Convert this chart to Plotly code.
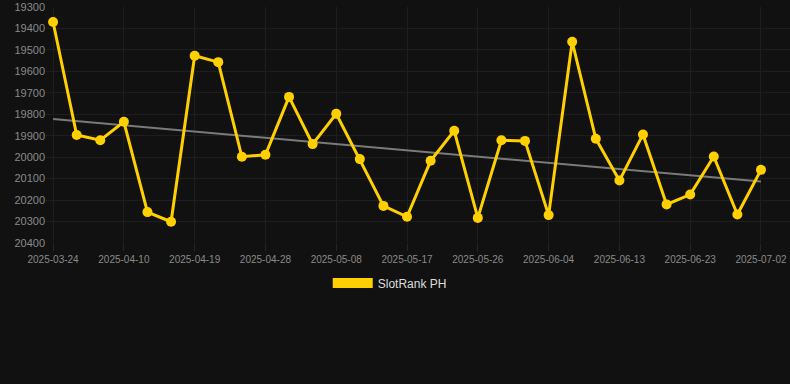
import numpy as np
import plotly.graph_objects as go

dates = ["2025-03-24", "2025-03-30", "2025-04-05", "2025-04-10", "2025-04-13", "2025-04-16",
         "2025-04-19", "2025-04-22", "2025-04-25", "2025-04-28", "2025-05-01", "2025-05-05",
         "2025-05-08", "2025-05-11", "2025-05-14", "2025-05-17", "2025-05-20", "2025-05-23",
         "2025-05-26", "2025-05-29", "2025-06-01", "2025-06-04", "2025-06-07", "2025-06-10",
         "2025-06-13", "2025-06-17", "2025-06-20", "2025-06-23", "2025-06-26", "2025-06-29",
         "2025-07-02"]
rank = [19370, 19897, 19921, 19835, 20256, 20301, 19527, 19557, 19998, 19989, 19719,
        19939, 19798, 20009, 20227, 20278, 20017, 19877, 20283, 19921, 19924, 20270,
        19462, 19914, 20109, 19894, 20220, 20174, 19997, 20267, 20059]
tick_labels = dates[::3]
y_ticks = [19300, 19400, 19500, 19600, 19700, 19800, 19900, 20000, 20100, 20200, 20300, 20400]
series_name = "SlotRank PH"

idx = np.arange(len(rank))
slope, intercept = np.polyfit(idx, rank, 1)
trend = slope * idx + intercept

YELLOW = "#FFD000"
BG = "#111111"

fig = go.Figure()
fig.add_trace(go.Scatter(
    x=dates, y=trend, mode="lines", line=dict(color="#7a7a7a", width=2),
    showlegend=False, hoverinfo="skip"))
fig.add_trace(go.Scatter(
    x=dates, y=rank, mode="lines+markers", name=series_name,
    line=dict(color=YELLOW, width=3), marker=dict(color=YELLOW, size=10),
    showlegend=False))
# legend entry
fig.add_trace(go.Scatter(x=[None], y=[None], mode="lines", name=series_name,
                         line=dict(color=YELLOW, width=12), showlegend=True))

fig.update_layout(
    width=790, height=384,
    margin=dict(l=46, r=0, t=7, b=141),
    paper_bgcolor=BG, plot_bgcolor=BG,
    font=dict(family="Liberation Sans, Arial, sans-serif", color="#8a8a8a", size=11),
    xaxis=dict(type="category", categoryorder="array", categoryarray=dates,
               range=[-0.3, 31.23], tickvals=tick_labels, ticktext=tick_labels,
               showgrid=True, gridcolor="#1e1e1e", gridwidth=1,
               ticks="outside", ticklen=7, tickcolor="#262626",
               showline=False, zeroline=False, tickfont=dict(size=10, color="#8a8a8a")),
    yaxis=dict(range=[20400, 19300], tickvals=y_ticks, tickformat="d", showgrid=True,
               gridcolor="#1e1e1e", gridwidth=1, zeroline=False, showline=False,
               tickfont=dict(size=11, color="#8a8a8a")),
    legend=dict(orientation="h", x=0.462, xanchor="center", y=-0.108, yanchor="top",
                font=dict(size=12, color="#dddddd"), bgcolor="rgba(0,0,0,0)",
                itemwidth=40),
    showlegend=True,
)

fig.write_html("out.html", config={"displayModeBar": False},
               post_script="document.body.style.margin='0';document.body.style.background='#111111';")
